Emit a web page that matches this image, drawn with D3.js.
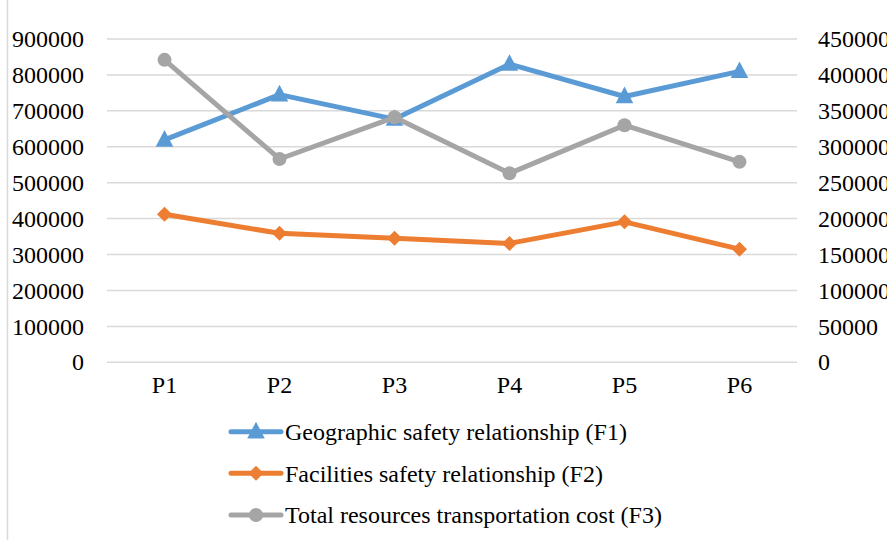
<!DOCTYPE html>
<html><head><meta charset="utf-8">
<script src="https://cdn.jsdelivr.net/npm/d3@7"></script>
<style>
html,body{margin:0;padding:0;background:#fff;}
svg{display:block;font-family:"Liberation Serif","Times New Roman",serif;}
</style></head><body>
<svg id="chart" width="887" height="540"></svg>
<script>
const categories = ["P1","P2","P3","P4","P5","P6"];
const f1 = [619000, 745000, 677000, 830000, 740000, 810000];
const f2 = [412000, 359000, 345000, 331000, 391000, 315000];
const f3 = [421000, 283000, 341000, 263000, 330000, 279000];
const leftTicks = [0,100000,200000,300000,400000,500000,600000,700000,800000,900000];
const rightTicks = [0,50000,100000,150000,200000,250000,300000,350000,400000,450000];
const seriesNames = ["Geographic safety relationship (F1)","Facilities safety relationship (F2)","Total resources transportation cost (F3)"];

const svg = d3.select("#chart");
const W=887,H=540;
const plot={l:107,r:797,t:39,b:362.3};
const x=d3.scaleBand().domain(categories).range([plot.l,plot.r]);
const yL=d3.scaleLinear().domain([0,900000]).range([plot.b,plot.t]);
const yR=d3.scaleLinear().domain([0,450000]).range([plot.b,plot.t]);

svg.append("line").attr("x1",7.5).attr("x2",7.5).attr("y1",0).attr("y2",H)
  .attr("stroke","#d9d9d9").attr("stroke-width",1.5);

svg.append("g").selectAll("line").data(leftTicks).join("line")
  .attr("x1",plot.l).attr("x2",plot.r)
  .attr("y1",d=>yL(d)).attr("y2",d=>yL(d))
  .attr("stroke","#d9d9d9").attr("stroke-width",1.5);

const fs=24;
const ff="Liberation Serif";
const axL=d3.axisLeft(yL).tickValues(leftTicks).tickSize(0).tickPadding(0).tickFormat(d=>String(d));
const gL=svg.append("g").attr("transform","translate(84,0)").call(axL);
gL.select(".domain").remove();
gL.attr("font-family",ff).attr("font-size",fs);
gL.selectAll("text").attr("fill","#000");

const axR=d3.axisRight(yR).tickValues(rightTicks).tickSize(0).tickPadding(0).tickFormat(d=>String(d));
const gR=svg.append("g").attr("transform","translate(818,0)").call(axR);
gR.select(".domain").remove();
gR.attr("font-family",ff).attr("font-size",fs);
gR.selectAll("text").attr("fill","#000");

const axB=d3.axisBottom(x).tickSize(0).tickPadding(0);
const gB=svg.append("g").attr("transform","translate(0,380)").call(axB);
gB.select(".domain").remove();
gB.attr("font-family",ff).attr("font-size",fs);
gB.selectAll("text").attr("fill","#000").attr("dy","0.55em");

const colors=["#5b9bd5","#ed7d31","#a5a5a5"];
const cx=d=>x(d)+x.bandwidth()/2;

function tri(s){return `M0,${-s*0.62}L${s*0.55},${s*0.42}L${-s*0.55},${s*0.42}Z`;}
function dia(s){return `M0,${-s/2}L${s/2},0L0,${s/2}L${-s/2},0Z`;}

function drawSeries(vals,scale,color,marker){
  const line=d3.line().x((d,i)=>cx(categories[i])).y(d=>scale(d));
  svg.append("path").datum(vals).attr("d",line).attr("fill","none")
    .attr("stroke",color).attr("stroke-width",5).attr("stroke-linejoin","round").attr("stroke-linecap","round");
  const g=svg.append("g");
  vals.forEach((v,i)=>{
    const px=cx(categories[i]), py=scale(v);
    if(marker==="tri") g.append("path").attr("d",tri(16)).attr("transform",`translate(${px},${py})`).attr("fill",color);
    else if(marker==="dia") g.append("path").attr("d",dia(15)).attr("transform",`translate(${px},${py})`).attr("fill",color);
    else g.append("circle").attr("cx",px).attr("cy",py).attr("r",7).attr("fill",color);
  });
}
drawSeries(f1,yL,colors[0],"tri");
drawSeries(f2,yL,colors[1],"dia");
drawSeries(f3,yR,colors[2],"circ");

const legY=[431.7,473.3,515];
const markers=["tri","dia","circ"];
seriesNames.forEach((n,i)=>{
  const g=svg.append("g").attr("transform",`translate(0,${legY[i]})`);
  g.append("line").attr("x1",231).attr("x2",281).attr("y1",0).attr("y2",0)
    .attr("stroke",colors[i]).attr("stroke-width",5).attr("stroke-linecap","round");
  if(markers[i]==="tri") g.append("path").attr("d",tri(16)).attr("transform","translate(256,0)").attr("fill",colors[i]);
  else if(markers[i]==="dia") g.append("path").attr("d",dia(15)).attr("transform","translate(256,0)").attr("fill",colors[i]);
  else g.append("circle").attr("cx",256).attr("cy",0).attr("r",7).attr("fill",colors[i]);
  g.append("text").attr("x",285).attr("y",0).attr("dy","0.35em").attr("font-family",ff).attr("font-size",fs).attr("fill","#000").text(n);
});
</script>
</body></html>
